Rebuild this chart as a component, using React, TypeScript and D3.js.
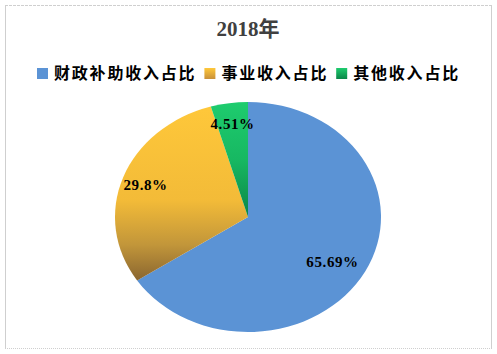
import React from "react";
import * as d3 from "d3";

const categories = ["财政补助收入占比", "事业收入占比", "其他收入占比"];
const values = [65.69, 29.8, 4.51];
const valueLabels = ["65.69%", "29.8%", "4.51%"];
const title = "2018年";

const W = 497;
const H = 354;
const cx = 248;
const cy = 217;
const rx = 133;
const ry = 115;

const App = () => {
  const pie = d3.pie<number>().sort(null).value(d => d);
  const arcs = pie(values);
  const arc = d3.arc<d3.PieArcDatum<number>>().innerRadius(0).outerRadius(ry);
  const labelArc = d3.arc<d3.PieArcDatum<number>>().innerRadius(ry * 0.82).outerRadius(ry * 0.82);
  const sx = rx / ry;

  const fills = ["#5b93d5", "url(#gYellow)", "url(#gGreen)"];

  // legend positions from char counts
  const charW = 17.8;
  let lx = 37;
  const legend = categories.map((c, i) => {
    const item = { c, x: lx, fill: i === 0 ? "#5b93d5" : i === 1 ? "url(#lYellow)" : "url(#lGreen)" };
    lx += 11 + 6 + c.length * charW + 8;
    return item;
  });

  return (
    <svg width={W} height={H} style={{ position: "fixed", left: 0, top: 0, background: "#fff" }}>
      <defs>
        <linearGradient id="gYellow" gradientUnits="userSpaceOnUse" x1={0} y1={-ry} x2={0} y2={ry * 0.55}>
          <stop offset="0" stopColor="#ffc83a" />
          <stop offset="0.55" stopColor="#f3bb38" />
          <stop offset="0.8" stopColor="#c2963a" />
          <stop offset="1" stopColor="#8a6630" />
        </linearGradient>
        <linearGradient id="gGreen" gradientUnits="userSpaceOnUse" x1={0} y1={-ry} x2={0} y2={0}>
          <stop offset="0" stopColor="#1ecc6e" />
          <stop offset="0.5" stopColor="#17b862" />
          <stop offset="1" stopColor="#0a8648" />
        </linearGradient>
        <linearGradient id="lYellow" x1="0" y1="0" x2="0" y2="1">
          <stop offset="0" stopColor="#ffc83a" />
          <stop offset="1" stopColor="#c8903a" />
        </linearGradient>
        <linearGradient id="lGreen" x1="0" y1="0" x2="0" y2="1">
          <stop offset="0" stopColor="#1ecc6e" />
          <stop offset="1" stopColor="#0a8648" />
        </linearGradient>
      </defs>

      <line x1={5} x2={492} y1={5.5} y2={5.5} stroke="#cfcfcf" strokeDasharray="3,1" />
      <line x1={5} x2={492} y1={348.5} y2={348.5} stroke="#cfcfcf" strokeDasharray="1,1" />
      <line x1={5.5} x2={5.5} y1={5} y2={349} stroke="#cfcfcf" />
      <line x1={491.5} x2={491.5} y1={5} y2={349} stroke="#cfcfcf" />

      <text x={cx} y={36} textAnchor="middle" fontFamily="'Liberation Serif', 'Noto Sans CJK SC', serif"
        fontWeight="bold" fontSize={21} fill="#404040">{title}</text>

      {legend.map((d, i) => (
        <g key={i}>
          <rect x={d.x} y={68} width={11} height={11} fill={d.fill} />
          <text x={d.x + 17} y={79} fontFamily="'Noto Sans CJK SC', sans-serif" fontWeight="bold"
            fontSize={16} letterSpacing={1.8} fill="#000">{d.c}</text>
        </g>
      ))}

      <g transform={`translate(${cx},${cy}) scale(${sx},1)`}>
        {arcs.map((a, i) => (
          <path key={i} d={arc(a) || ""} fill={fills[i]} />
        ))}
      </g>

      {arcs.map((a, i) => {
        const [px, py] = labelArc.centroid(a);
        return (
          <text key={i} x={cx + px * sx * (i === 0 ? 0.88 : 1)} y={cy + py} textAnchor="middle" dy="0.35em"
            fontFamily="'Liberation Serif', serif" fontWeight="bold" fontSize={15} letterSpacing={0.6} fill="#000">
            {valueLabels[i]}
          </text>
        );
      })}
    </svg>
  );
};

export default App;
